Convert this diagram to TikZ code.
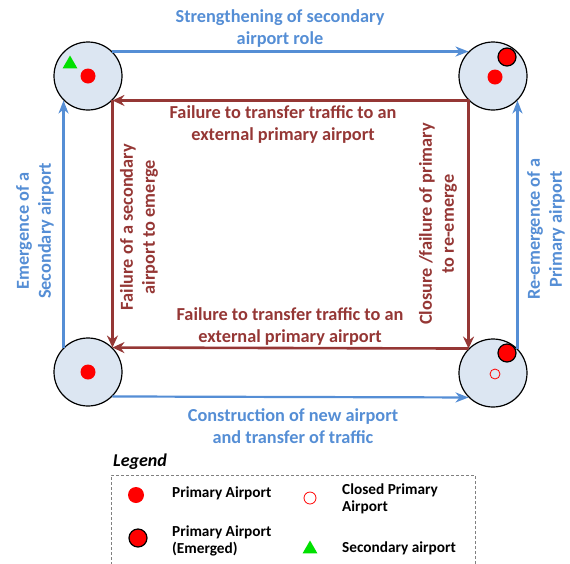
\documentclass[tikz,border=0pt]{standalone}
\usepackage{fontspec}
\setmainfont{Carlito}
\usetikzlibrary{arrows.meta,shapes.geometric}
\definecolor{skyline}{HTML}{558ED5}
\definecolor{brick}{HTML}{953735}
\definecolor{pale}{HTML}{DCE6F2}
\definecolor{leaf}{HTML}{00E000}
\begin{document}
\begin{tikzpicture}[x=1pt, y=-1pt,
  airport/.style={circle, draw, line width=1.2pt, fill=pale, minimum size=68pt, inner sep=0pt},
  prim/.style={circle, fill=red, minimum size=15pt, inner sep=0pt},
  emerged/.style={circle, draw, line width=1.2pt, fill=red, minimum size=18pt, inner sep=0pt},
  closed/.style={circle, draw=red, line width=.8pt, minimum size=10pt, inner sep=0pt},
  second/.style={regular polygon, regular polygon sides=3, fill=leaf, minimum size=17pt, inner sep=0pt},
  blueline/.style={draw=skyline, line width=2.2pt, -{Stealth[length=13pt, width=10pt, inset=4pt]}},
  redline/.style={draw=brick, line width=2.6pt, -{Stealth[length=12pt, width=11pt, inset=4pt]}},
  bluetxt/.style={text=skyline, font=\bfseries\fontsize{18.3}{22}\selectfont, align=center, inner sep=0pt},
  redtxt/.style={text=brick, font=\bfseries\fontsize{18.3}{22}\selectfont, align=center, inner sep=0pt},
  keytxt/.style={font=\bfseries\fontsize{15.3}{17}\selectfont, align=left, anchor=west, inner sep=0pt}]
  \useasboundingbox (0,0) rectangle (570,563);

  \node[airport] (tl) at (88,76) {};
  \node[airport] (tr) at (493,76) {};
  \node[airport] (bl) at (88,372) {};
  \node[airport] (br) at (493,373) {};

  \node[prim] (tlp) at (88,76) {};
  \node[second] (tls) at (70,64) {};
  \node[prim] (trp) at (495,77) {};
  \node[emerged] (tre) at (507,57) {};
  \node[prim] (blp) at (88,372) {};
  \node[closed] (brc) at (495,374) {};
  \node[emerged] (bre) at (507,353) {};

  \draw[blueline] (tl.45) -- (tr.135);
  \draw[blueline] (bl.-45) -- (br.-135);
  \draw[blueline] (bl.135) -- (tl.-135);
  \draw[blueline] (br.45) -- (tr.-45);

  \draw[redline] (tr.-135) -- (tl.-45);
  \draw[redline] (tl.-45) -- (bl.45);
  \draw[redline] (tr.-135) -- (br.135);
  \draw[redline] (br.135) -- (bl.45);

  \node[bluetxt] (grow) at (280,29) {Strengthening of secondary\\airport role};
  \node[redtxt] (fail1) at (283,125) {Failure to transfer traffic to an\\external primary airport};
  \node[redtxt] (fail2) at (290,326) {Failure to transfer traffic to an\\external primary airport};
  \node[bluetxt] (build) at (293,426) {Construction of new airport\\and transfer of traffic};
  \node[bluetxt, rotate=90] (rise) at (35,231) {Emergence of a\\Secondary airport};
  \node[bluetxt, rotate=90] (rerise) at (546,229) {Re-emergence of a\\Primary airport};
  \node[redtxt, rotate=90] (nosec) at (139,227) {Failure of a secondary\\airport to emerge};
  \node[redtxt, rotate=90] (shut) at (438,224) {Closure /failure of primary\\to re-emerge};

  \node[font=\bfseries\itshape\fontsize{18}{20}\selectfont, anchor=west, inner sep=0pt] (key) at (113,462) {Legend};
  \draw[gray, line width=.8pt, dash pattern=on 3pt off 2pt] (111,570) -- (111,475) -- (475,475) -- (475,570);
  \node[prim, minimum size=16pt] (k1) at (136,495) {};
  \node[keytxt] (k1t) at (172,493) {Primary Airport};
  \node[closed, minimum size=12pt] (k2) at (310,498) {};
  \node[keytxt] (k2t) at (342,499) {Closed Primary\\Airport};
  \node[emerged] (k3) at (138,538) {};
  \node[keytxt] (k3t) at (172,541) {Primary Airport\\(Emerged)};
  \node[second] (k4) at (310,549) {};
  \node[keytxt] (k4t) at (342,548) {Secondary airport};
\end{tikzpicture}
\end{document}
